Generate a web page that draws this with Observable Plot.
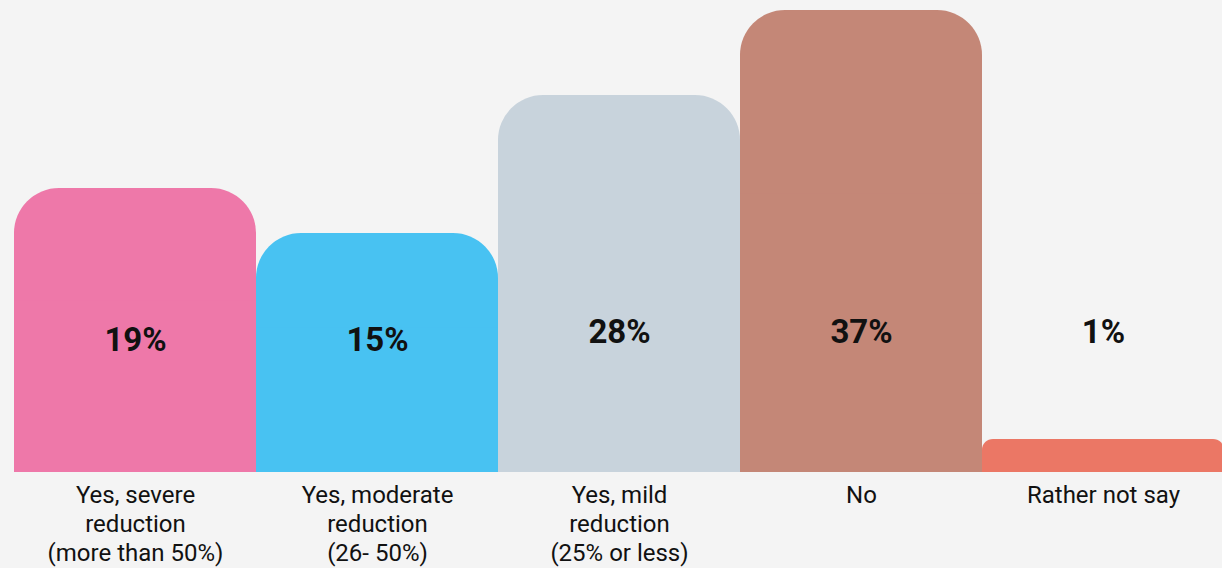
<!DOCTYPE html>
<html><head><meta charset="utf-8">
<script src="https://cdn.jsdelivr.net/npm/d3@7"></script>
<script src="https://cdn.jsdelivr.net/npm/@observablehq/plot@0.6"></script>
<style>html,body{margin:0;padding:0;background:#f4f4f4;overflow:hidden}#chart svg{display:block}</style>
</head><body><div id="chart"></div>
<script>
const categories = ["Yes, severe reduction", "Yes, moderate reduction", "Yes, mild reduction", "No", "Rather not say"];
const categoryLabels = ["Yes, severe\nreduction\n(more than 50%)", "Yes, moderate\nreduction\n(26- 50%)", "Yes, mild\nreduction\n(25% or less)", "No", "Rather not say"];
const values = [19, 15, 28, 37, 1];
const palette = ["#ee78a9", "#48c2f2", "#c8d3dc", "#c48777", "#eb7765"];

const rows = categories.map((c, i) => ({category: c, label: categoryLabels[i], value: values[i]}));
const bigRows = rows.filter(d => d.value >= 5);
const smallRows = rows.filter(d => d.value < 5);

const chart = Plot.plot({
  width: 1222,
  height: 568,
  marginLeft: 12.7,
  marginRight: -3.7,
  marginTop: 10,
  marginBottom: 96,
  style: {background: "#f4f4f4", fontFamily: "Roboto, sans-serif", overflow: "visible"},
  x: {domain: categories, padding: 0, axis: null},
  y: {type: "pow", exponent: 0.73, domain: [0, 37], axis: null},
  color: {domain: categories, range: palette},
  marks: [
    Plot.barY(bigRows, {x: "category", y: "value", fill: "category", rx: 45}),
    Plot.barY(bigRows, {x: "category", y: d => d.value / 2, fill: "category"}),
    Plot.barY(smallRows, {x: "category", y: "value", fill: "category", rx: 11}),
    Plot.barY(smallRows, {x: "category", y: d => d.value / 2, fill: "category"}),
    Plot.text(rows.slice(0, 2), {x: "category", text: d => d.value + "%", frameAnchor: "bottom", dy: -122, fontSize: 33, fontWeight: 700, fill: "#111"}),
    Plot.text(rows.slice(2), {x: "category", text: d => d.value + "%", frameAnchor: "bottom", dy: -130, fontSize: 33, fontWeight: 700, fill: "#111"}),
    Plot.text(rows, {x: "category", text: "label", frameAnchor: "bottom", dy: 10, lineAnchor: "top", fontSize: 24, lineHeight: 1.2, fill: "#111"})
  ]
});
document.getElementById("chart").appendChild(chart);
</script>
</body></html>
